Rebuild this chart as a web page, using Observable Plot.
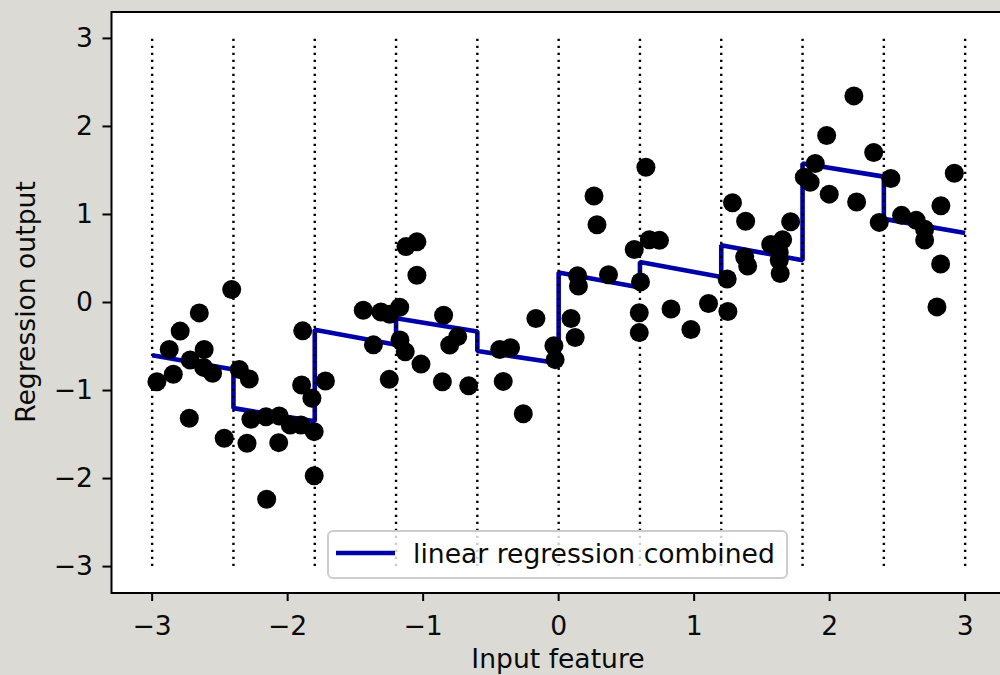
<!DOCTYPE html>
<html>
<head>
<meta charset="utf-8">
<script src="https://cdn.jsdelivr.net/npm/d3@7"></script>
<script src="https://cdn.jsdelivr.net/npm/@observablehq/plot@0.6"></script>
<style>
html, body { margin: 0; padding: 0; background: #dcdad4; overflow: hidden; width: 1000px; height: 675px; }
#chart { width: 1010px; height: 675px; }
</style>
</head>
<body>
<div id="chart"></div>
<script>
// Sample points
const inputX = [-2.965,-2.874,-2.844,-2.793,-2.726,-2.719,-2.652,-2.616,-2.620,-2.554,
  -2.468,-2.413,-2.357,-2.283,-2.300,-2.271,-2.160,-2.062,-2.066,-2.155,
  -1.981,-1.902,-1.804,-1.804,-1.889,-1.897,-1.821,-1.721,-1.442,-1.367,
  -1.311,-1.247,-1.250,-1.173,-1.171,-1.132,-1.127,-1.046,-1.046,-1.016,
  -0.849,-0.745,-0.804,-0.858,-0.664,-0.435,-0.355,-0.409,-0.261,-0.168,
  -0.035,-0.026,0.091,0.122,0.140,0.146,0.261,0.283,0.368,0.558,
  0.604,0.595,0.595,0.644,0.669,0.744,0.829,0.976,1.106,1.244,
  1.249,1.283,1.380,1.373,1.395,1.565,1.653,1.712,1.628,1.628,
  1.635,1.813,1.856,1.894,1.978,1.997,2.179,2.199,2.325,2.366,
  2.452,2.531,2.639,2.701,2.701,2.821,2.920,2.819,2.792];
const outputY = [-0.900,-0.533,-0.816,-0.325,-1.315,-0.654,-0.118,-0.533,-0.737,-0.805,
  -1.542,0.147,-0.760,-0.870,-1.599,-1.327,-1.297,-1.289,-1.592,-2.234,
  -1.391,-1.391,-1.467,-1.969,-0.322,-0.938,-1.088,-0.892,-0.087,-0.481,
  -0.107,-0.133,-0.873,-0.053,-0.427,-0.560,0.635,0.689,0.310,-0.700,
  -0.144,-0.388,-0.484,-0.900,-0.947,-0.533,-0.515,-0.896,-1.263,-0.181,
  -0.490,-0.649,-0.181,-0.397,0.304,0.187,1.209,0.884,0.315,0.602,
  0.234,-0.116,-0.342,1.537,0.712,0.706,-0.073,-0.306,-0.011,0.268,
  -0.102,1.134,0.924,0.517,0.414,0.658,0.712,0.918,0.574,0.480,
  0.329,1.424,1.367,1.579,1.897,1.231,2.347,1.141,1.704,0.910,
  1.409,0.990,0.933,0.833,0.710,1.100,1.469,0.438,-0.050];

// Bin edges (dotted verticals) and the fitted line per bin (value at left / right edge)
const binEdges = [-3, -2.4, -1.8, -1.2, -0.6, 0, 0.6, 1.2, 1.8, 2.4, 3];
const lineStart = [-0.60, -1.20, -0.31, -0.18, -0.55, 0.34, 0.46, 0.65, 1.58, 0.95];
const lineEnd   = [-0.76, -1.35, -0.48, -0.33, -0.69, 0.17, 0.29, 0.48, 1.43, 0.79];

const xTicks = [-3, -2, -1, 0, 1, 2, 3];
const yTicks = [-3, -2, -1, 0, 1, 2, 3];
const xLabel = "Input feature";
const yLabel = "Regression output";
const legendLabel = "linear regression combined";

const points = inputX.map((x, i) => ({x, y: outputY[i]}));
const lineData = [];
lineStart.forEach((s, i) => {
  lineData.push({x: binEdges[i], y: s});
  lineData.push({x: binEdges[i + 1], y: lineEnd[i]});
});

const FONT = "'DejaVu Sans', 'Liberation Sans', sans-serif";
const FS = 26.6;
const fmt = d3.format("d");

const plot = Plot.plot({
  width: 1010,
  height: 675,
  marginLeft: 111,
  marginRight: 4.7,
  marginTop: 11.5,
  marginBottom: 82.5,
  style: `background:#dcdad4;max-width:none;font-family:${FONT};font-size:${FS}px;overflow:hidden;`,
  x: {domain: [-3.3, 3.3], label: null},
  y: {domain: [-3.3, 3.3], label: null},
  marks: [
    Plot.frame({fill: "white", stroke: null}),
    Plot.line(lineData, {x: "x", y: "y", stroke: "#0000aa", strokeWidth: 4.6, strokeLinejoin: "miter", strokeLinecap: "butt"}),
    Plot.ruleX(binEdges, {x: d => d, y1: -3, y2: 3, stroke: "black", strokeWidth: 2.4, strokeDasharray: "2.4,4.6"}),
    Plot.dot(points, {x: "x", y: "y", r: 9.5, fill: "black", stroke: "none"}),
    Plot.frame({stroke: "black", strokeWidth: 2}),
    Plot.axisX(xTicks, {tickSize: 8.5, tickPadding: 14.5, tickFormat: fmt, label: null, strokeWidth: 2, fontSize: FS, fill: "#0a0a0a"}),
    Plot.axisY(yTicks, {tickSize: 8.5, tickPadding: 10, tickFormat: fmt, label: null, strokeWidth: 2, fontSize: FS, fill: "#0a0a0a"})
  ]
});

document.getElementById("chart").appendChild(plot);

// Axis titles and legend (layout text)
const svg = d3.select(plot);
const g = svg.append("g").attr("font-family", FONT).attr("font-size", FS).attr("fill", "#0a0a0a");
g.append("text").attr("x", 558).attr("y", 668).attr("text-anchor", "middle").text(xLabel);
g.append("text").attr("transform", "translate(35,302) rotate(-90)").attr("text-anchor", "middle").text(yLabel);

const lg = svg.append("g").attr("font-family", FONT).attr("font-size", FS);
lg.append("rect").attr("x", 328).attr("y", 531).attr("width", 459).attr("height", 47).attr("rx", 5)
  .attr("fill", "white").attr("fill-opacity", 0.8).attr("stroke", "#cccccc").attr("stroke-width", 2);
lg.append("line").attr("x1", 336).attr("x2", 395).attr("y1", 553).attr("y2", 553)
  .attr("stroke", "#0000aa").attr("stroke-width", 4.6);
lg.append("text").attr("x", 413).attr("y", 563).attr("text-anchor", "start").attr("fill", "#0a0a0a").text(legendLabel);
</script>
</body>
</html>
